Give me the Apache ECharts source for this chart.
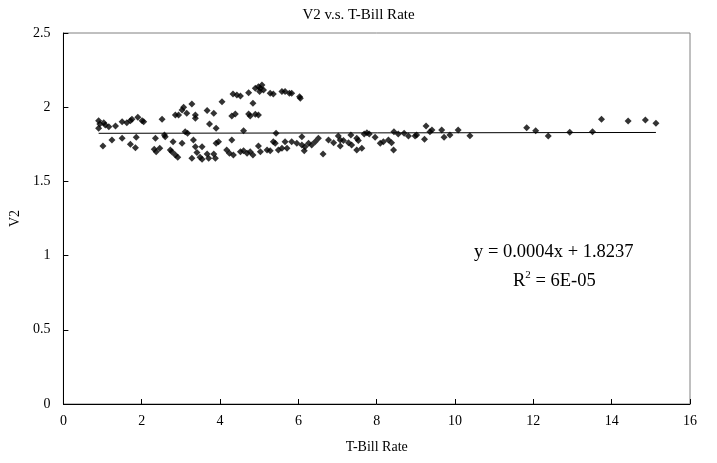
<!DOCTYPE html>
<html>
<head>
<meta charset="utf-8">
<script src="https://cdn.jsdelivr.net/npm/echarts@6/dist/echarts.min.js"></script>
<style>html,body{margin:0;padding:0;background:#fff}#c{width:717px;height:463px}</style>
</head>
<body>
<div id="c"></div>
<script>
const titleText = 'V2 v.s. T-Bill Rate';
const xName = 'T-Bill Rate';
const yName = 'V2';
const xTicks = [0, 2, 4, 6, 8, 10, 12, 14, 16];
const yTicks = [0, 0.5, 1, 1.5, 2, 2.5];
const tbill = [0.90,0.93,0.90,1.03,1.07,1.16,1.33,1.50,1.62,1.71,1.75,1.90,2.01,2.05,2.52,1.01,1.24,1.50,1.71,1.84,1.86,2.35,2.32,2.37,2.46,2.58,2.60,2.73,2.77,2.86,2.92,2.80,3.03,2.86,2.94,3.03,3.07,3.15,3.11,3.17,
3.28,3.37,3.37,3.67,3.84,4.05,3.73,3.90,4.33,4.43,4.52,4.73,4.84,4.90,4.98,5.03,5.07,5.11,5.01,5.28,5.36,5.58,5.66,5.77,4.30,4.39,4.73,4.77,4.90,4.98,4.60,3.32,3.37,3.54,3.41,3.49,3.28,3.54,3.67,3.71,3.84,3.88,3.90,3.96,4.30,4.17,4.24,4.34,4.52,4.60,4.69,4.77,4.84,4.98,5.03,5.20,5.28,5.36,5.41,5.43,5.49,5.58,5.66,5.71,
5.83,6.03,6.05,5.83,5.96,6.09,6.09,6.17,6.15,6.26,6.34,6.43,6.51,6.63,6.77,6.90,7.02,7.07,7.07,7.15,7.28,7.34,7.36,7.49,7.53,7.49,7.62,7.68,7.75,7.81,7.96,8.09,8.17,8.30,
8.38,8.43,8.44,8.55,8.70,8.81,8.98,9.02,9.22,9.26,9.36,9.41,9.66,9.72,9.87,10.08,10.38,11.83,12.06,12.38,12.93,13.51,13.74,14.42,14.86,15.13];
const v2 = [1.909,1.887,1.858,1.896,1.880,1.869,1.873,1.902,1.896,1.909,1.918,1.932,1.909,1.902,1.918,1.739,1.779,1.790,1.750,1.727,1.797,1.790,1.716,1.700,1.723,1.813,1.801,1.712,1.700,1.678,1.662,1.768,1.757,1.947,1.947,1.981,1.999,1.959,1.835,1.824,
2.022,1.947,1.925,1.977,1.959,2.037,1.887,1.858,2.089,2.082,2.075,2.098,2.026,2.127,2.138,2.127,2.150,2.116,2.105,2.094,2.089,2.105,2.105,2.094,1.941,1.954,1.954,1.941,1.952,1.947,1.842,1.779,1.734,1.734,1.694,1.662,1.656,1.649,1.685,1.656,1.685,1.656,1.757,1.768,1.779,1.712,1.690,1.678,1.700,1.707,1.690,1.700,1.678,1.739,1.700,1.712,1.707,1.768,1.757,1.824,1.712,1.723,1.768,1.723,
2.094,2.071,2.060,1.768,1.757,1.801,1.745,1.734,1.707,1.757,1.745,1.768,1.790,1.685,1.779,1.761,1.806,1.779,1.739,1.775,1.761,1.813,1.745,1.790,1.775,1.712,1.723,1.820,1.828,1.820,1.797,1.757,1.768,1.779,
1.761,1.712,1.835,1.820,1.824,1.806,1.806,1.813,1.784,1.873,1.835,1.846,1.846,1.797,1.813,1.846,1.808,1.862,1.842,1.806,1.831,1.835,1.918,1.907,1.914,1.892];
const trendX = [0.90, 15.13];
const trendY = [1.8241, 1.8298];
const eqText = 'y = 0.0004x + 1.8237';

const font = '"Liberation Serif", "Times New Roman", serif';
const pts = tbill.map((x, i) => [x, v2[i]]);
const trend = trendX.map((x, i) => [x, trendY[i]]);

const chart = echarts.init(document.getElementById('c'), null, {renderer: 'canvas'});
chart.setOption({
  animation: false,
  backgroundColor: '#fff',
  title: {
    text: titleText, left: 'center', top: 3,
    textStyle: {fontFamily: font, fontSize: 15, fontWeight: 'normal', color: '#000'}
  },
  grid: {left: 63, right: 27, top: 33, bottom: 59, show: true, borderColor: '#808080', borderWidth: 1, backgroundColor: 'transparent'},
  xAxis: {
    type: 'value', min: 0, max: 16, interval: 2,
    name: xName, nameLocation: 'middle', nameGap: 36,
    nameTextStyle: {fontFamily: font, fontSize: 14, color: '#000'},
    axisLine: {show: true, onZero: false, lineStyle: {color: '#000', width: 1}},
    axisTick: {show: true, inside: true, length: 5, lineStyle: {color: '#000'}},
    axisLabel: {fontFamily: font, fontSize: 14, color: '#000', margin: 10,
      formatter: v => xTicks.includes(v) ? String(v) : ''},
    splitLine: {show: false}
  },
  yAxis: {
    type: 'value', min: 0, max: 2.5, interval: 0.5,
    name: yName, nameLocation: 'middle', nameGap: 40, nameRotate: 90,
    nameTextStyle: {fontFamily: font, fontSize: 14, color: '#000'},
    axisLine: {show: true, onZero: false, lineStyle: {color: '#000', width: 1}},
    axisTick: {show: true, inside: true, length: 5, lineStyle: {color: '#000'}},
    axisLabel: {fontFamily: font, fontSize: 14, color: '#000', margin: 13,
      formatter: v => yTicks.includes(v) ? String(v) : ''},
    splitLine: {show: false}
  },
  series: [
    {
      type: 'scatter', data: pts, symbol: 'diamond', symbolSize: 7,
      itemStyle: {color: '#000'}, z: 3
    },
    {
      type: 'line', data: trend, symbol: 'none',
      lineStyle: {color: '#000', width: 1}, z: 2
    }
  ],
  graphic: [
    {type: 'text', left: 474, top: 243, style: {text: eqText, font: '18.5px ' + font, fill: '#000'}},
    {type: 'text', left: 513, top: 270, style: {
      text: '{a|R}{s|2}{a| = 6E-05}',
      rich: {
        a: {fontFamily: font, fontSize: 18.5, fill: '#000', color: '#000', verticalAlign: 'bottom'},
        s: {fontFamily: font, fontSize: 11, fill: '#000', color: '#000', verticalAlign: 'top', padding: [0, 0, 10, 0]}
      }
    }}
  ]
});
</script>
</body>
</html>
